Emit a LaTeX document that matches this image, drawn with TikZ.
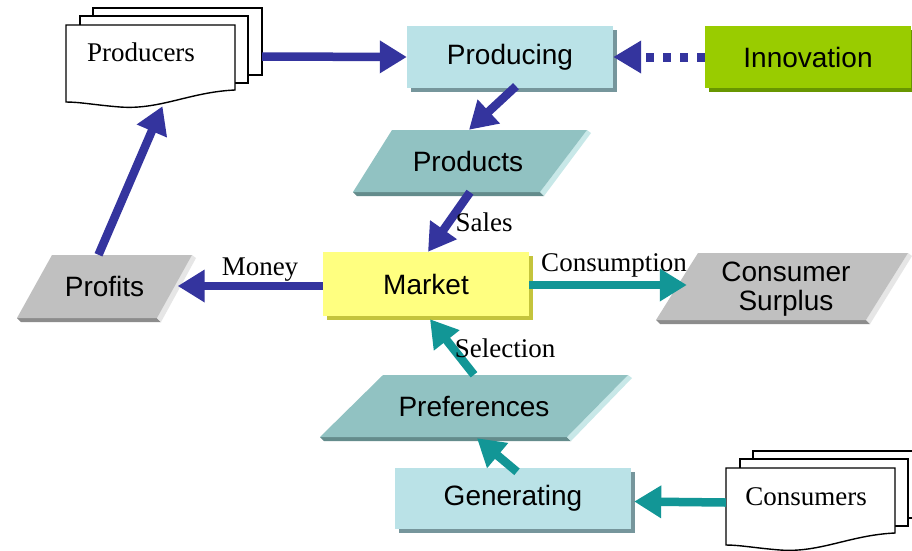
\documentclass[tikz,border=0pt]{standalone}
\usepackage{fontspec}
\setmainfont{Liberation Serif}
\setsansfont{Liberation Sans}
\usetikzlibrary{arrows.meta,calc}
\definecolor{navy}{RGB}{52,52,158}
\definecolor{tealarrow}{RGB}{18,150,150}
\definecolor{lblue}{RGB}{186,226,231}
\definecolor{lblueedge}{RGB}{118,150,156}
\definecolor{tealpara}{RGB}{145,194,194}
\definecolor{tealparalight}{RGB}{200,232,232}
\definecolor{tealparadark}{RGB}{100,140,140}
\definecolor{greypara}{RGB}{192,192,192}
\definecolor{greyparalight}{RGB}{230,230,230}
\definecolor{greyparadark}{RGB}{140,140,140}
\definecolor{mkyellow}{RGB}{255,255,128}
\definecolor{mkyellowedge}{RGB}{196,196,60}
\definecolor{innogreen}{RGB}{153,204,0}
\definecolor{innogreenedge}{RGB}{104,150,0}
\tikzset{
  sanslabel/.style={font=\sffamily\fontsize{28}{28}\selectfont, text=black},
  seriflabel/.style={font=\fontsize{27}{29}\selectfont, text=black, inner sep=0pt},
  bevelbox/.style 2 args={fill=#1, inner sep=0pt, sanslabel,
    preaction={fill=#2, transform canvas={xshift=4pt,yshift=-4pt}}},
  textarea/.style={inner sep=0pt, sanslabel},
  docline/.style={draw=black, fill=white, line width=1.4pt, line join=miter},
  flowarrow/.style={line width=8.5pt, -{Triangle[width=31pt,length=27pt]}},
  navyarrow/.style={flowarrow, draw=navy},
  tealflow/.style={flowarrow, draw=tealarrow},
  dottedflow/.style={draw=navy, line width=9pt, dash pattern=on 8pt off 9pt,
    -{Triangle[width=31pt,length=28pt]}}
}
% parallelogram: TLx TRx BRx BLx ytop ybot fill light dark
\newcommand\myparal[9]{%
  \fill[#9] (#4,#6) -- (#3,#6) -- (#3+4,#6+4) -- (#4+4,#6+4) -- cycle;
  \fill[#8] (#2,#5) -- (#2+4,#5+3) -- (#3+4,#6+4) -- (#3,#6) -- cycle;
  \fill[#7] (#1,#5) -- (#2,#5) -- (#3,#6) -- (#4,#6) -- cycle;}
\newcommand\mydocstack[1]{%
  \begin{scope}[shift={#1}]
    \draw[docline] (93,8) rectangle (262,75);
    \draw[docline] (80,16) rectangle (248,83);
    \draw[docline] (66,25) -- (235,25) -- (235,90)
      .. controls (190,92) and (160,110) .. (120,107)
      .. controls (95,105) and (80,102) .. (66,102) -- cycle;
  \end{scope}}
\begin{document}
\begin{tikzpicture}[x=1pt,y=-1pt]
\useasboundingbox (0,0) rectangle (912,550);
\clip (0,0) rectangle (912,550);
\fill[white] (0,0) rectangle (912,550);

% shapes drawn directly
\mydocstack{(0,0)}
\mydocstack{(660,443)}
\myparal{392}{587}{540}{353}{130}{192}{tealpara}{tealparalight}{tealparadark}
\myparal{52}{192}{157}{17}{255}{318}{greypara}{greyparalight}{greyparadark}
\myparal{698}{908}{866}{656}{253}{320}{greypara}{greyparalight}{greyparadark}
\myparal{383}{628}{567}{320}{375}{437}{tealpara}{tealparalight}{tealparadark}

% nodes
\node[inner sep=0pt, minimum width=169pt, minimum height=77pt] (producers) at (150.5,63.5) {};
\node[seriflabel] (producerstext) at (141,52) {Producers};
\node[inner sep=0pt, minimum width=169pt, minimum height=77pt] (consumers) at (810.5,506.5) {};
\node[seriflabel] (consumerstext) at (806,497) {Consumers};

\node[bevelbox={lblue}{lblueedge}, minimum width=206pt, minimum height=62pt] (producing) at (510,57) {Producing};
\node[bevelbox={innogreen}{innogreenedge}, minimum width=206pt, minimum height=62pt] (innovation) at (808,57) {Innovation};
\node[bevelbox={mkyellow}{mkyellowedge}, minimum width=206pt, minimum height=64pt] (market) at (426,284) {Market};
\node[bevelbox={lblue}{lblueedge}, minimum width=236pt, minimum height=61pt] (generating) at (513,498.5) {Generating};

\node[textarea, minimum width=190pt, minimum height=62pt] (products) at (468,161) {Products};
\node[textarea, minimum width=140pt, minimum height=63pt] (profits) at (104.5,286.5) {Profits};
\node[textarea, align=center, minimum width=210pt, minimum height=67pt] (surplus) at (786,289) {Consumer\\[1pt]Surplus};
\node[textarea, minimum width=246pt, minimum height=62pt] (preferences) at (474,406) {Preferences};

% connectors
\draw[navyarrow] ([xshift=27pt,yshift=7pt]producers.east) -- (producing.west);
\draw[dottedflow] (innovation.west) -- (producing.east);
\draw[navyarrow] ([xshift=6pt,yshift=2pt]producing.south) -- ([xshift=1pt]products.north);
\draw[navyarrow] ([xshift=2pt]products.south) -- ([xshift=2pt]market.north);
\draw[navyarrow] ([yshift=-2pt]market.west) -- ([xshift=3pt,yshift=0.5pt]profits.east);
\draw[navyarrow] ([xshift=-6pt]profits.north) -- ([xshift=12pt,yshift=-4pt]producers.south);
\draw[tealflow] ([yshift=-1pt]market.east) -- ([xshift=6pt,yshift=4pt]surplus.west);
\draw[tealflow] (preferences.north) -- ([xshift=4pt,yshift=-3pt]market.south);
\draw[tealflow] ([xshift=4pt,yshift=-4pt]generating.north) -- ([xshift=3pt,yshift=-1pt]preferences.south);
\draw[tealflow] ([yshift=4pt]consumers.west) -- ([xshift=3pt,yshift=-3pt]generating.east);

% connector labels
\node[seriflabel] (saleslabel) at (484,222) {Sales};
\node[seriflabel] (moneylabel) at (260,270) {Money};
\node[seriflabel] (consumptionlabel) at (614,265) {Consumption};
\node[seriflabel] (selectionlabel) at (505,348) {Selection};
\end{tikzpicture}
\end{document}
